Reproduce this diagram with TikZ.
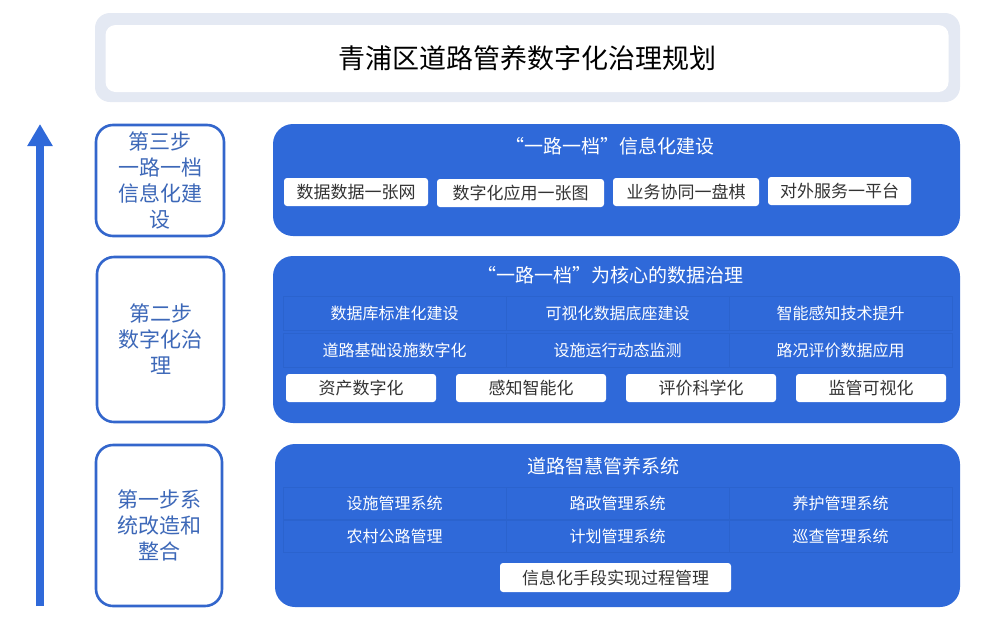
\documentclass[tikz,border=0pt]{standalone}
\usepackage{fontspec}
\setmainfont{Noto Sans CJK SC}
\usetikzlibrary{arrows.meta}
\definecolor{planblue}{HTML}{2F69D9}
\definecolor{cellline}{HTML}{2B63CE}
\definecolor{stepblue}{HTML}{3366CC}
\definecolor{steptext}{HTML}{3D68B8}
\definecolor{titlegrey}{HTML}{E4E9F3}
\definecolor{darktext}{HTML}{333333}
\tikzstyle{panel}=[fill=planblue,rounded corners=20pt,inner sep=0pt]
\tikzstyle{stepbox}=[draw=stepblue,line width=2.6pt,fill=white,rounded corners=17pt,inner sep=0pt,text=steptext,align=center,font=\fontsize{21}{26}\selectfont]
\tikzstyle{tag}=[fill=white,rounded corners=3pt,inner sep=0pt,text=darktext,font=\fontsize{17}{20}\selectfont]
\tikzstyle{cell}=[draw=cellline,line width=0.5pt,inner sep=0pt,text=white,font=\fontsize{16}{19}\selectfont]
\tikzstyle{head}=[text=white,font=\fontsize{19}{22}\selectfont]
% name, x, y, width, height, text
\newcommand{\tagbox}[6]{\node[tag,minimum width=#4,minimum height=#5] (#1) at (#2,#3) {#6};}
\newcommand{\gridcell}[4]{\node[cell,minimum width=223pt,minimum height=#3] (#1) at (#2) {#4};}
\begin{document}
\begin{tikzpicture}[x=1pt,y=-1pt]
    \useasboundingbox (0,0) rectangle (1008,635);
    % title
    \node[fill=titlegrey,rounded corners=15pt,minimum width=865pt,minimum height=89pt] (titleback) at (527.5,57.5) {};
    \node[fill=white,rounded corners=10pt,minimum width=843pt,minimum height=67pt,font=\fontsize{27}{30}\selectfont] (title) at (527,58.5) {青浦区道路管养数字化治理规划};

    % progress arrow
    \coordinate (arrowbase) at (40,606);
    \coordinate (arrowtip) at (40,124);
    \draw[planblue,line width=8pt,-{Triangle[width=24pt,length=22pt]}] (arrowbase) -- (arrowtip);

    % steps
    \node[stepbox,minimum width=128pt,minimum height=111pt] (step3) at (160,180.5) {第三步\\一路一档\\信息化建\\设};
    \node[stepbox,minimum width=127pt,minimum height=165pt] (step2) at (160.5,339.5) {第二步\\数字化治\\理};
    \node[stepbox,minimum width=126pt,minimum height=161pt] (step1) at (159,525.5) {第一步系\\统改造和\\整合};

    % third step: one road one file
    \node[panel,minimum width=687pt,minimum height=112pt] (panel3) at (616.5,180) {};
    \node[head] (head3) at (610,146) {“一路一档”信息化建设};
    \tagbox{net}{356}{192}{144pt}{28pt}{数据数据一张网}
    \tagbox{map}{520.5}{193}{167pt}{28pt}{数字化应用一张图}
    \tagbox{chess}{686}{192}{146pt}{28pt}{业务协同一盘棋}
    \tagbox{platform}{839.5}{191}{143pt}{28pt}{对外服务一平台}

    % second step: data governance
    \node[panel,minimum width=687pt,minimum height=167pt] (panel2) at (616.5,339.5) {};
    \node[head] (head2) at (610,275) {“一路一档”为核心的数据治理};
    \gridcell{db}{394.5,313}{34pt}{数据库标准化建设}
    \gridcell{base}{617.5,313}{34pt}{可视化数据底座建设}
    \gridcell{sense}{840.5,313}{34pt}{智能感知技术提升}
    \gridcell{infra}{394.5,350}{34pt}{道路基础设施数字化}
    \gridcell{monitor}{617.5,350}{34pt}{设施运行动态监测}
    \gridcell{eval}{840.5,350}{34pt}{路况评价数据应用}
    \tagbox{asset}{361}{388}{150pt}{28pt}{资产数字化}
    \tagbox{smart}{531}{388}{150pt}{28pt}{感知智能化}
    \tagbox{science}{701}{388}{150pt}{28pt}{评价科学化}
    \tagbox{visual}{871}{388}{150pt}{28pt}{监管可视化}

    % first step: maintenance systems
    \node[panel,minimum width=685pt,minimum height=163pt] (panel1) at (617.5,525.5) {};
    \node[head] (head1) at (603,466) {道路智慧管养系统};
    \gridcell{facility}{394.5,503}{32pt}{设施管理系统}
    \gridcell{admin}{617.5,503}{32pt}{路政管理系统}
    \gridcell{repair}{840.5,503}{32pt}{养护管理系统}
    \gridcell{rural}{394.5,536}{32pt}{农村公路管理}
    \gridcell{plan}{617.5,536}{32pt}{计划管理系统}
    \gridcell{patrol}{840.5,536}{32pt}{巡查管理系统}
    \tagbox{process}{615.5}{577.5}{231pt}{29pt}{信息化手段实现过程管理}
\end{tikzpicture}
\end{document}
